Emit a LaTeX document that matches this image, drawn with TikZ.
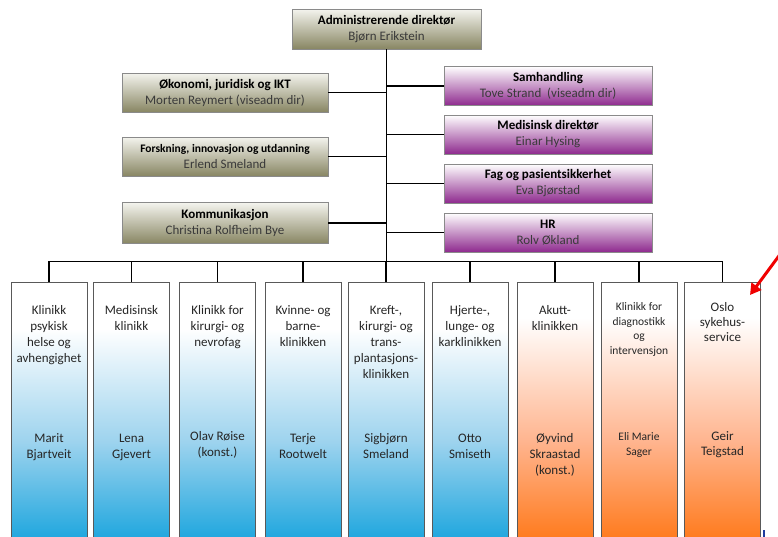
\documentclass[tikz,border=0pt]{standalone}
\usepackage{fontspec}
\setmainfont{Carlito}
\usetikzlibrary{calc,arrows.meta}
\definecolor{olvtop}{HTML}{F4F4EE}
\definecolor{olvbot}{HTML}{888663}
\definecolor{purbot}{HTML}{8E2A8E}
\definecolor{blubot}{HTML}{1EA6DE}
\definecolor{blumid}{HTML}{9DD3EE}
\definecolor{orabot}{HTML}{FF7A1C}
\definecolor{oramid}{HTML}{FFB48E}
\definecolor{namegray}{HTML}{3A3A3A}
\definecolor{boxline}{HTML}{8A8A8A}
\definecolor{clinline}{HTML}{595959}
\definecolor{arrowred}{HTML}{F00000}
\definecolor{bluemark}{HTML}{1F3C9E}
\pgfdeclareverticalshading{olvshade}{100bp}{color(0bp)=(olvbot); color(25bp)=(olvbot); color(75bp)=(olvtop); color(100bp)=(olvtop)}
\pgfdeclareverticalshading{purshade}{100bp}{color(0bp)=(purbot); color(25bp)=(purbot); color(75bp)=(white); color(100bp)=(white)}
\pgfdeclareverticalshading{blushade}{100bp}{color(0bp)=(blubot); color(25bp)=(blubot); color(44bp)=(blumid); color(66bp)=(white); color(100bp)=(white)}
\pgfdeclareverticalshading{orashade}{100bp}{color(0bp)=(orabot); color(25bp)=(orabot); color(44bp)=(oramid); color(68bp)=(white); color(100bp)=(white)}
\tikzset{
  x=1pt, y=-1pt,
  upbox/.style={draw=boxline, line width=0.8pt, inner sep=0pt, align=center,
    minimum height=39, font=\fontsize{13}{16}\selectfont},
  olvbox/.style={upbox, shading=olvshade, minimum width=206},
  purbox/.style={upbox, shading=purshade, minimum width=208},
  clin/.style={draw=clinline, line width=0.8pt, minimum width=76, minimum height=258, inner sep=0pt},
  bluclin/.style={clin, shading=blushade},
  oraclin/.style={clin, shading=orashade},
  ctext/.style={anchor=north, inner sep=0pt, align=center, text=black!85, font=\fontsize{13}{16}\selectfont},
  ctextsmall/.style={anchor=north, inner sep=0pt, align=center, text=black!85, font=\fontsize{11.5}{14.5}\selectfont},
  conn/.style={draw=black, line width=1.1pt},
}
\newcommand{\nm}[1]{\textcolor{namegray}{#1}}
\begin{document}
\begin{tikzpicture}
\useasboundingbox (0,0) rectangle (778,536);
\clip (0,0) rectangle (778,536);
\fill[white] (0,0) rectangle (778,536);

% top
\node[upbox, shading=olvshade, minimum width=189, minimum height=40] (top) at (386.5,29)
  {\textbf{Administrerende direktør}\\\nm{Bjørn Erikstein}};

% left staff
\node[olvbox] (oko) at (225,92.5) {\textbf{Økonomi, juridisk og IKT}\\\nm{Morten Reymert (viseadm dir)}};
\node[olvbox] (fou) at (225,156.5) {{\fontsize{11.5}{16}\selectfont\textbf{Forskning, innovasjon og utdanning}}\\\nm{Erlend Smeland}};
\node[olvbox, minimum height=41] (kom) at (225,223) {\textbf{Kommunikasjon}\\\nm{Christina Rolfheim Bye}};

% right staff
\node[purbox] (sam) at (548,86) {\textbf{Samhandling}\\\nm{Tove Strand\ \ (viseadm dir)}};
\node[purbox] (med) at (548,134.5) {\textbf{Medisinsk direktør}\\\nm{Einar Hysing}};
\node[purbox] (fag) at (548,183.5) {\textbf{Fag og pasientsikkerhet}\\\nm{Eva Bjørstad}};
\node[purbox] (hr) at (548,232.5) {\textbf{HR}\\\nm{Rolv Økland}};

% clinics
\node[bluclin] (c1) at (49,411) {};
\node[bluclin] (c2) at (131.5,411) {};
\node[bluclin] (c3) at (217.5,411) {};
\node[bluclin] (c4) at (303,411) {};
\node[bluclin] (c5) at (386,411) {};
\node[bluclin] (c6) at (470,411) {};
\node[oraclin] (c7) at (555,411) {};
\node[oraclin] (c8) at (639,411) {};
\node[oraclin] (c9) at (722.5,411) {};

% connectors
\coordinate (trunkend) at ($(top.south)+(0,212)$);
\draw[conn] (top.south) -- (trunkend);
\foreach \b in {oko,fou,kom}{\draw[conn] (\b.east) -- (\b.east -| top.south);}
\foreach \b in {sam,med,fag,hr}{\draw[conn] (\b.west) -- (\b.west -| top.south);}
\draw[conn] (c1.north |- trunkend) -- (c9.north |- trunkend);
\foreach \c in {c1,c2,c3,c4,c5,c6,c7,c8,c9}{\draw[conn] (\c.north) -- (\c.north |- trunkend);}

% clinic texts
\node[ctext] (t1) at ($(c1.north)+(0,23.5)$) {Klinikk\\psykisk\\helse og\\avhengighet};
\node[ctext] (n1) at ($(c1.north)+(0,152)$) {Marit\\Bjartveit};
\node[ctext] (t2) at ($(c2.north)+(0,23.5)$) {Medisinsk\\klinikk};
\node[ctext] (n2) at ($(c2.north)+(0,152)$) {Lena\\Gjevert};
\node[ctext] (t3) at ($(c3.north)+(0,23.5)$) {Klinikk for\\kirurgi- og\\nevrofag};
\node[ctext] (n3) at ($(c3.north)+(0,150)$) {Olav Røise\\(konst.)};
\node[ctext] (t4) at ($(c4.north)+(0,23.5)$) {Kvinne- og\\barne-\\klinikken};
\node[ctext] (n4) at ($(c4.north)+(0,152)$) {Terje\\Rootwelt};
\node[ctext] (t5) at ($(c5.north)+(0,23.5)$) {Kreft-,\\kirurgi- og\\trans-\\plantasjons-\\klinikken};
\node[ctext] (n5) at ($(c5.north)+(0,152)$) {Sigbjørn\\Smeland};
\node[ctext] (t6) at ($(c6.north)+(0,23.5)$) {Hjerte-,\\lunge- og\\karklinikken};
\node[ctext] (n6) at ($(c6.north)+(0,152)$) {Otto\\Smiseth};
\node[ctext] (t7) at ($(c7.north)+(0,23.5)$) {Akutt-\\klinikken};
\node[ctext] (n7) at ($(c7.north)+(0,152)$) {Øyvind\\Skraastad\\(konst.)};
\node[ctextsmall] (t8) at ($(c8.north)+(0,21)$) {Klinikk for\\diagnostikk\\og\\intervensjon};
\node[ctextsmall] (n8) at ($(c8.north)+(0,151)$) {Eli Marie\\Sager};
\node[ctext, font=\fontsize{13}{15}\selectfont] (t9) at ($(c9.north)+(0,20.5)$) {Oslo\\sykehus-\\service};
\node[ctext, font=\fontsize{13}{15}\selectfont] (n9) at ($(c9.north)+(0,149.5)$) {Geir\\Teigstad};

% red arrow
\coordinate (arrstart) at (784,249);
\coordinate (arrtip) at (750,295);
\draw[arrowred, line width=3pt, -{Triangle[length=11pt,width=12pt]}] (arrstart) -- (arrtip);

% small blue mark
\coordinate (bm1) at (764,530);
\coordinate (bm2) at (764,537);
\draw[bluemark, line width=1.2pt] (bm1) -- (bm2);
\end{tikzpicture}
\end{document}
